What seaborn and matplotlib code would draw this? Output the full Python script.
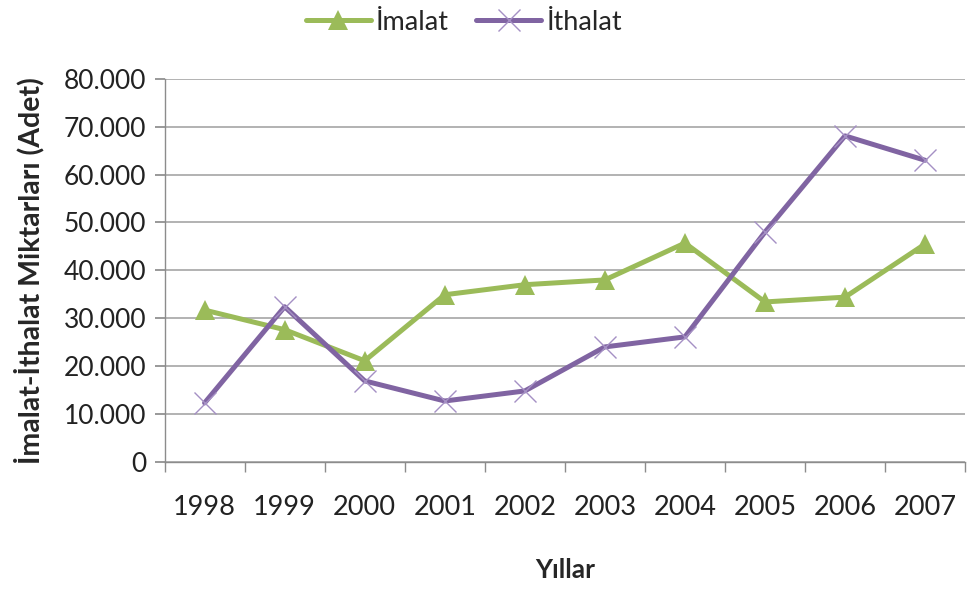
import numpy as np
import pandas as pd
import matplotlib
matplotlib.use("Agg")
import matplotlib.pyplot as plt
import seaborn as sns
from matplotlib.ticker import FuncFormatter, FixedLocator

years = ["1998", "1999", "2000", "2001", "2002", "2003", "2004", "2005", "2006", "2007"]
imalat = [31700, 27600, 21100, 34900, 37000, 38000, 45700, 33400, 34400, 45500]
ithalat = [12300, 32400, 16900, 12700, 14800, 24000, 26100, 48000, 68100, 63000]

green = "#9BBB59"
purple = "#8064A2"

sns.set_theme(style="white")
plt.rcParams['font.family'] = ['Lato', 'DejaVu Sans']

df = pd.DataFrame({"pos": np.arange(len(years)), "İmalat": imalat, "İthalat": ithalat})

fig = plt.figure(figsize=(9.68, 5.89), dpi=100)
ax = fig.add_axes([0.170, 0.216, 0.827, 0.650])

sns.lineplot(data=df, x="pos", y="İmalat", ax=ax, color=green, linewidth=3.6,
             marker="^", markersize=14, markeredgewidth=0, label="İmalat")
sns.lineplot(data=df, x="pos", y="İthalat", ax=ax, color=purple, linewidth=3.6,
             marker="x", markersize=16, markeredgewidth=1.0, markeredgecolor="#A590C4",
             label="İthalat")

ax.set_xlim(-0.5, len(years) - 0.5)
ax.set_ylim(0, 80000)
ax.set_yticks(np.arange(0, 80001, 10000))
ax.yaxis.set_major_formatter(FuncFormatter(lambda v, p: "0" if v == 0 else f"{int(v):,}".replace(",", ".")))
ax.set_xticks(np.arange(len(years)))
ax.set_xticklabels(years)
ax.xaxis.set_minor_locator(FixedLocator(np.arange(-0.5, len(years), 1.0)))

ax.grid(axis="y", color="#A6A6A6", linewidth=1.2)
ax.set_axisbelow(True)
for s in ["top", "right"]:
    ax.spines[s].set_visible(False)
for s in ["left", "bottom"]:
    ax.spines[s].set_color("#8C8C8C")
    ax.spines[s].set_linewidth(1.0)

ax.tick_params(axis="x", which="major", length=0, labelsize=19.5, pad=24, colors="#222222")
ax.tick_params(axis="x", which="minor", length=7, color="#8C8C8C", direction="out", bottom=True)
ax.tick_params(axis="y", which="major", length=7, color="#8C8C8C", direction="out", left=True,
               labelsize=19, pad=6, labelcolor="#222222")

ax.set_xlabel("Yıllar", fontsize=19, fontweight="bold", labelpad=27)
ax.set_ylabel("İmalat-İthalat Miktarları (Adet)", fontsize=20.5, fontweight="bold", labelpad=14)

leg = ax.legend(loc="upper center", bbox_to_anchor=(0.374, 1.245), ncol=2, frameon=False,
                fontsize=19.5, handlelength=2.4, columnspacing=1.0, handletextpad=0.2)

fig.savefig("out.png", dpi=100)
